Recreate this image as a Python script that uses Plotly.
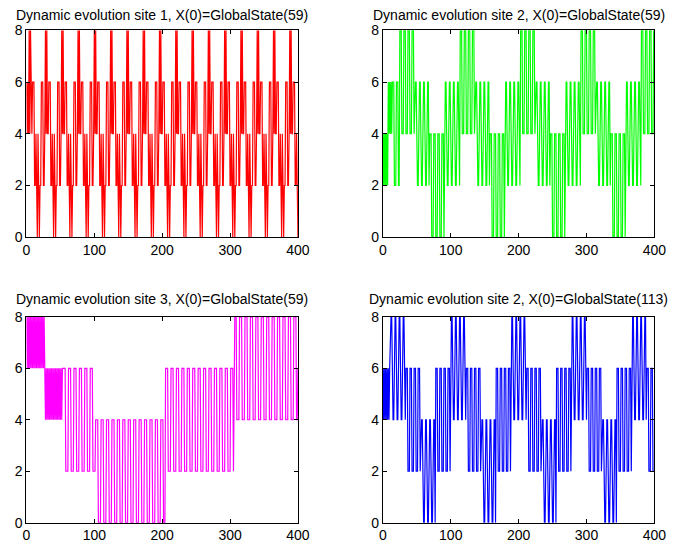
import plotly.graph_objects as go

# ---------------- data (one char per time step t=0..400) -----------
TITLES = [
    "Dynamic evolution site 1, X(0)=GlobalState(59)",
    "Dynamic evolution site 2, X(0)=GlobalState(59)",
    "Dynamic evolution site 3, X(0)=GlobalState(59)",
    "Dynamic evolution site 2, X(0)=GlobalState(113)",
]
X_TICKS = [0, 100, 200, 300, 400]
Y_TICKS = [0, 2, 4, 6, 8]

SITE1_GS59 = (
    "6464"
    "848446662240040022666224"
    "848446662240040022666224"
    "848446662240040022666224"
    "848446662240040022666224"
    "848446662240040022666224"
    "848446662240040022666224"
    "848446662240040022666224"
    "848446662240040022666224"
    "848446662240040022666224"
    "848446662240040022666224"
    "848446662240040022666224"
    "848446662240040022666224"
    "848446662240040022666224"
    "848446662240040022666224"
    "848446662240040022666224"
    "848446662240040022666224"
    "8484466622400"
)

SITE2_GS59 = (
    "42424242"
    "646464"
    "66622266622"
    "8884448884448884448884"
    "6662226662226662226662"
    "4440004440004440004440"
    "66622266622266622266622"
    "8884448884448884448884"
    "6662226662226662226662"
    "4440004440004440004440"
    "66622266622266622266622"
    "8884448884448884448884"
    "6662226662226662226662"
    "4440004440004440004440"
    "66622266622266622266622"
    "8884448884448884448884"
    "6662226662226662226662"
    "4440004440004440004440"
    "66622266622266622266622"
    "88844488844488844486"
)

SITE3_GS59 = (
    "868686868686868686868686868"
    "646464646464646464646464646"
    "66662222" "66662222" "66662222" "66662222" "66662222" "66662222"
    "44440000" "44440000" "44440000" "44440000" "44440000" "44440000"
    "44440000" "44440000" "44440000" "44440000" "44440000" "44440000"
    "4444000"
    "66662222" "66662222" "66662222" "66662222" "66662222" "66662222"
    "66662222" "66662222" "66662222" "66662222" "66662222" "66662222"
    "66662"
    "88884444" "88884444" "88884444" "88884444" "88884444" "88884444"
    "88884444" "88884444" "88884444" "88884444" "88884444"
    "8888446"
)

SITE2_GS113 = (
    "64646464646"
    "88844488844488844488844"
    "6662226662226662226662"
    "4440004440004440004440"
    "6662226662226662226662"
    "88844488844488844488844"
    "6662226662226662226662"
    "4440004440004440004440"
    "6662226662226662226662"
    "88844488844488844488844"
    "6662226662226662226662"
    "4440004440004440004440"
    "6662226662226662226662"
    "88844488844488844488844"
    "6662226662226662226662"
    "4440004440004440004440"
    "6662226662226662226662"
    "8884448884448884448884"
    "666222666222"
)

SERIES = [SITE1_GS59, SITE2_GS59, SITE3_GS59, SITE2_GS113]
COLORS = ["#ff0000", "#00ff00", "#ff00ff", "#0000ff"]

# ---------------- layout geometry ----------------
W, H = 681, 554
X_DOMAINS = [(23, 301), (388, 666), (23, 301), (388, 666)]
Y_DOMAINS = [(23, 236), (23, 236), (318, 530), (318, 530)]
TITLE_SHIFT = [5, 5, 8, 8]
FONT = "Liberation Sans, Arial, Helvetica, sans-serif"

fig = go.Figure()
layout = dict(
    width=W, height=H, autosize=False,
    margin=dict(l=0, r=0, t=0, b=0, pad=0),
    paper_bgcolor="white", plot_bgcolor="white",
    showlegend=False,
    font=dict(family=FONT, size=14, color="black"),
    annotations=[],
)

for i, (s, col) in enumerate(zip(SERIES, COLORS)):
    vals = [int(c) for c in s]
    t = list(range(len(vals)))
    k = "" if i == 0 else str(i + 1)
    fig.add_trace(go.Scatter(
        x=t, y=vals, mode="lines",
        line=dict(color=col, width=1.2),
        xaxis="x" + k, yaxis="y" + k, hoverinfo="skip",
    ))
    x0, x1 = X_DOMAINS[i]
    y0, y1 = Y_DOMAINS[i]
    xd = [x0 / W, x1 / W]
    yd = [1 - y1 / H, 1 - y0 / H]
    common = dict(
        showline=True, linecolor="black", linewidth=1, mirror="ticks",
        ticks="inside", ticklen=4, tickcolor="black", tickwidth=1,
        showgrid=False, zeroline=False,
        tickfont=dict(family=FONT, size=14, color="black"),
    )
    layout["xaxis" + k] = dict(
        domain=xd, range=[0, 400], anchor="y" + k,
        tickmode="array", tickvals=X_TICKS, ticktext=[str(v) for v in X_TICKS],
        **common,
    )
    layout["yaxis" + k] = dict(
        domain=yd, range=[0, 8], anchor="x" + k,
        tickmode="array", tickvals=Y_TICKS, ticktext=[str(v) for v in Y_TICKS],
        **common,
    )
    layout["annotations"].append(dict(
        text=TITLES[i], xref="paper", yref="paper",
        x=(xd[0] + xd[1]) / 2, y=yd[1], xanchor="center", yanchor="bottom",
        yshift=TITLE_SHIFT[i], showarrow=False,
        font=dict(family=FONT, size=14, color="black"),
    ))

fig.update_layout(**layout)
fig.write_html(
    "out.html",
    config={"displayModeBar": False, "responsive": False},
    post_script=(
        "document.documentElement.style.margin='0';"
        "document.documentElement.style.overflow='hidden';"
        "document.body.style.margin='0';"
        "document.body.style.overflow='hidden';"
    ),
)
